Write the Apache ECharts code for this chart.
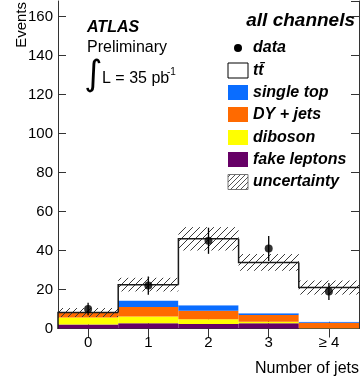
<!DOCTYPE html>
<html>
<head>
<meta charset="utf-8">
<script src="https://cdn.jsdelivr.net/npm/echarts@6/dist/echarts.min.js"></script>
<style>
  html, body { margin: 0; padding: 0; background: #ffffff; }
  #chart { width: 361px; height: 381px; }
</style>
</head>
<body>
<div id="chart"></div>
<script>
// Jet multiplicity, all dilepton channels
const categories = ['0', '1', '2', '3', '\u2265 4'];

// Expected yields per bin (stacked from the bottom up)
const fakeLeptons = [2.0, 2.7, 2.3, 2.7, 0.1];
const diboson     = [3.6, 3.4, 2.4, 0.8, 0.1];
const dyJets      = [2.3, 4.9, 4.4, 3.4, 2.8];
const singleTop   = [0.1, 3.3, 2.8, 0.9, 0.5];
const ttbar       = [0.2, 8.2, 34.1, 26.1, 17.5];
const uncertainty = [2.3, 3.5, 6.0, 4.3, 3.6];

// Observed events and their statistical errors
const dataCounts = [10, 22, 45, 41, 19];
const dataErrors = [3.2, 4.7, 6.7, 6.4, 4.4];

// Y axis range and tick spacing
const yMin = 0;
const yMax = 168;
const yStep = 20;

const FONT = '"Liberation Sans", Arial, Helvetica, sans-serif';
const COLORS = {
  fake: '#660066',
  diboson: '#ffff00',
  dy: '#ff6a00',
  single: '#0a6dff',
  ttbar: '#ffffff'
};

// Total expectation per bin, used for the outline and the band
const totals = categories.map((_, i) =>
  fakeLeptons[i] + diboson[i] + dyJets[i] + singleTop[i] + ttbar[i]);

// Diagonal "/" hatch lines filling a pixel rectangle
function hatchLines(x0, y0, x1, y1, step, style) {
  const out = [];
  const cStart = x0 + y0, cEnd = x1 + y1;
  for (let c = Math.ceil(cStart / step) * step; c <= cEnd; c += step) {
    const xa = Math.max(x0, c - y1);
    const xb = Math.min(x1, c - y0);
    if (xb - xa < 0.5) continue;
    out.push({ type: 'line', shape: { x1: xa, y1: c - xa, x2: xb, y2: c - xb }, style: style });
  }
  return out;
}

const chart = echarts.init(document.getElementById('chart'), null, { renderer: 'canvas' });

const axisLineStyle = { color: '#333333', width: 1 };

function barSeries(name, values, color) {
  return {
    name: name,
    type: 'bar',
    stack: 'expected',
    data: values,
    barCategoryGap: '0%',
    itemStyle: { color: color },
    z: 2,
    silent: true
  };
}

// Legend rows: marker kind, label, y centre
const legendRows = [
  { kind: 'dot', label: 'data', y: 48 },
  { kind: 'box', label: 'tt\u0304', color: '#ffffff', border: '#000000', y: 70.5 },
  { kind: 'box', label: 'single top', color: COLORS.single, y: 92.5 },
  { kind: 'box', label: 'DY + jets', color: COLORS.dy, y: 114.5 },
  { kind: 'box', label: 'diboson', color: COLORS.diboson, y: 137.5 },
  { kind: 'box', label: 'fake leptons', color: COLORS.fake, y: 159.5 },
  { kind: 'hatch', label: 'uncertainty', y: 182 }
];

const legendGraphics = [];
legendRows.forEach(row => {
  const bx = 228, bw = 20, bh = 15;
  if (row.kind === 'dot') {
    legendGraphics.push({ type: 'circle', shape: { cx: 238, cy: row.y, r: 4 }, style: { fill: '#000' } });
  } else if (row.kind === 'box') {
    legendGraphics.push({
      type: 'rect', shape: { x: bx, y: row.y - bh / 2, width: bw, height: bh },
      style: { fill: row.color, stroke: row.border || null, lineWidth: row.border ? 1 : 0 }
    });
  } else {
    legendGraphics.push({
      type: 'rect', shape: { x: bx, y: row.y - bh / 2, width: bw, height: bh },
      style: { fill: '#fff', stroke: '#777', lineWidth: 1 }
    });
    hatchLines(bx, row.y - bh / 2, bx + bw, row.y + bh / 2, 5, { stroke: '#555', lineWidth: 1 })
      .forEach(l => legendGraphics.push(l));
  }
  legendGraphics.push({
    type: 'text', x: 253, y: row.y,
    style: {
      text: row.label, fill: '#000', fontFamily: FONT, fontSize: 16,
      fontWeight: 'bold', fontStyle: 'italic', verticalAlign: 'middle', align: 'left'
    }
  });
});

const option = {
  animation: false,
  backgroundColor: '#ffffff',
  grid: { left: 58, right: 2, top: 1, bottom: 52.5, containLabel: false },
  xAxis: [
    {
      type: 'category', data: categories, position: 'bottom', boundaryGap: true,
      axisLine: { show: true, lineStyle: axisLineStyle },
      axisTick: { show: true, alignWithLabel: true, inside: true, length: 9, lineStyle: axisLineStyle },
      axisLabel: { color: '#000', fontFamily: FONT, fontSize: 15, margin: 7 },
      splitLine: { show: false }
    },
    {
      type: 'category', data: categories, position: 'top', boundaryGap: true,
      axisLine: { show: true, lineStyle: axisLineStyle },
      axisTick: { show: true, alignWithLabel: true, inside: true, length: 9, lineStyle: axisLineStyle },
      axisLabel: { show: false },
      splitLine: { show: false }
    }
  ],
  yAxis: [
    {
      type: 'value', min: yMin, max: yMax, interval: yStep, position: 'left',
      axisLine: { show: true, lineStyle: axisLineStyle },
      axisTick: { show: true, inside: true, length: 8, lineStyle: axisLineStyle },
      axisLabel: { color: '#000', fontFamily: FONT, fontSize: 15, margin: 5, showMaxLabel: false },
      splitLine: { show: false }
    },
    {
      type: 'value', min: yMin, max: yMax, interval: yStep, position: 'right',
      axisLine: { show: true, lineStyle: axisLineStyle },
      axisTick: { show: true, inside: true, length: 8, lineStyle: axisLineStyle },
      axisLabel: { show: false },
      splitLine: { show: false }
    }
  ],
  series: [
    barSeries('fake leptons', fakeLeptons, COLORS.fake),
    barSeries('diboson', diboson, COLORS.diboson),
    barSeries('DY + jets', dyJets, COLORS.dy),
    barSeries('single top', singleTop, COLORS.single),
    barSeries('tt\u0304', ttbar, COLORS.ttbar),
    {
      name: 'uncertainty',
      type: 'custom',
      z: 3,
      silent: true,
      data: totals.map((t, i) => [i, t, uncertainty[i]]),
      encode: { x: 0, y: 1 },
      renderItem: function (params, api) {
        const i = api.value(0), tot = api.value(1), e = api.value(2);
        const hi = api.coord([i, tot + e]);
        const lo = api.coord([i, tot - e]);
        const w = api.size([1, 0])[0];
        return {
          type: 'group',
          children: hatchLines(hi[0] - w / 2, hi[1], hi[0] + w / 2, lo[1], 7,
            { stroke: '#3a3a3a', lineWidth: 1 })
        };
      }
    },
    {
      name: 'total',
      type: 'custom',
      z: 4,
      silent: true,
      data: totals.map((t, i) => [i, t, i === 0 ? 0 : totals[i - 1]]),
      encode: { x: 0, y: 1 },
      renderItem: function (params, api) {
        const i = api.value(0);
        const cur = api.coord([i, api.value(1)]);
        const prev = api.coord([i, api.value(2)]);
        const w = api.size([1, 0])[0];
        const xl = cur[0] - w / 2, xr = cur[0] + w / 2;
        return {
          type: 'polyline',
          shape: { points: [[xl, prev[1]], [xl, cur[1]], [xr, cur[1]]] },
          style: { stroke: '#1a1a1a', lineWidth: 1.5, fill: 'none' }
        };
      }
    },
    {
      name: 'data errors',
      type: 'custom',
      z: 5,
      silent: true,
      data: dataCounts.map((v, i) => [i, v, dataErrors[i]]),
      encode: { x: 0, y: 1 },
      renderItem: function (params, api) {
        const i = api.value(0), v = api.value(1), e = api.value(2);
        const hi = api.coord([i, v + e]);
        const lo = api.coord([i, v - e]);
        return {
          type: 'line',
          shape: { x1: hi[0], y1: hi[1], x2: lo[0], y2: lo[1] },
          style: { stroke: '#000', lineWidth: 1.3 }
        };
      }
    },
    {
      name: 'data',
      type: 'scatter',
      z: 6,
      silent: true,
      data: dataCounts,
      symbol: 'circle',
      symbolSize: 8,
      itemStyle: { color: '#000' }
    }
  ],
  graphic: [
    {
      type: 'text', x: 22, y: 2, rotation: Math.PI / 2,
      style: { text: 'Events', fill: '#000', fontFamily: FONT, fontSize: 15, align: 'right', verticalAlign: 'middle' }
    },
    {
      type: 'text', x: 359, y: 369,
      style: { text: 'Number of jets', fill: '#000', fontFamily: FONT, fontSize: 16, align: 'right', verticalAlign: 'middle' }
    },
    {
      type: 'text', x: 87, y: 28,
      style: { text: 'ATLAS', fill: '#000', fontFamily: FONT, fontSize: 16, fontWeight: 'bold', fontStyle: 'italic', align: 'left', verticalAlign: 'middle' }
    },
    {
      type: 'text', x: 87, y: 48,
      style: { text: 'Preliminary', fill: '#000', fontFamily: FONT, fontSize: 16, align: 'left', verticalAlign: 'middle' }
    },
    {
      type: 'text', x: 84, y: 76,
      style: { text: '\u222B', fill: '#000', fontFamily: '"DejaVu Sans", sans-serif', fontSize: 35, align: 'left', verticalAlign: 'middle' }
    },
    {
      type: 'text', x: 102, y: 79,
      style: { text: 'L = 35 pb', fill: '#000', fontFamily: FONT, fontSize: 16, align: 'left', verticalAlign: 'middle' }
    },
    {
      type: 'text', x: 167, y: 72,
      style: { text: '-1', fill: '#000', fontFamily: FONT, fontSize: 10, align: 'left', verticalAlign: 'middle' }
    },
    {
      type: 'text', x: 355, y: 21,
      style: { text: 'all channels', fill: '#000', fontFamily: FONT, fontSize: 19, fontWeight: 'bold', fontStyle: 'italic', align: 'right', verticalAlign: 'middle' }
    }
  ].concat(legendGraphics)
};

chart.setOption(option);
</script>
</body>
</html>
